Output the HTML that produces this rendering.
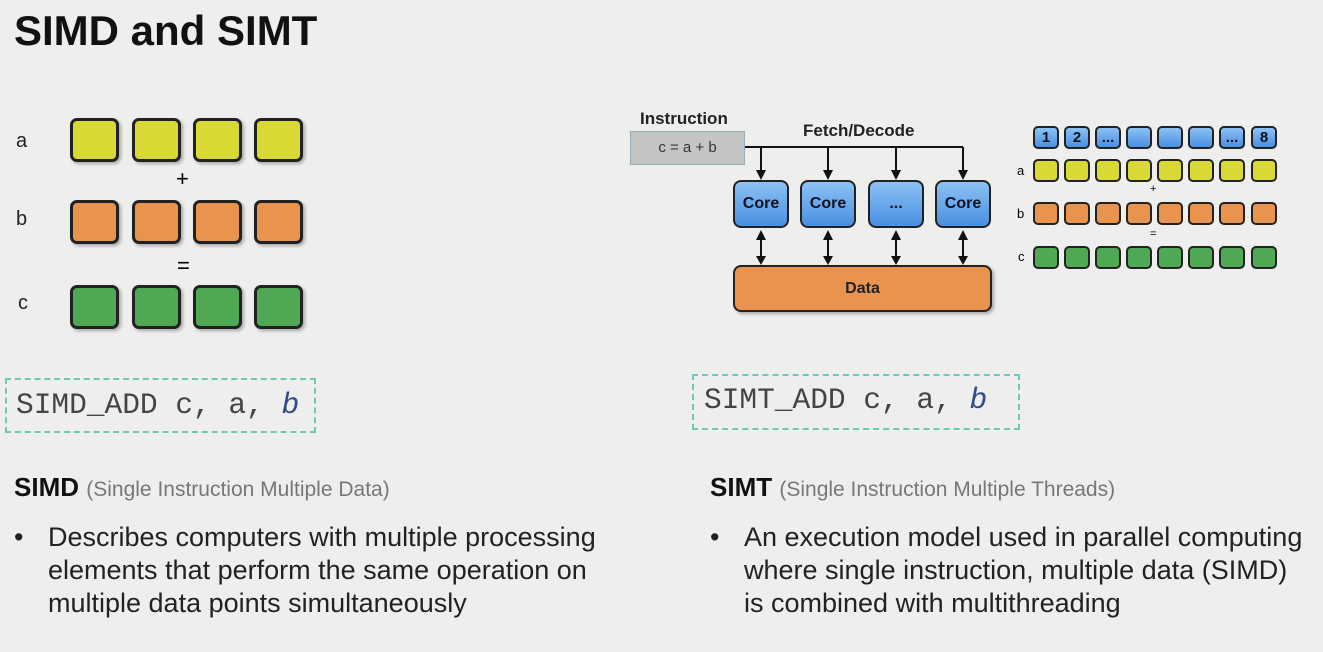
<!DOCTYPE html>
<html><head><style>
body{margin:0;width:1323px;height:652px;background:#eeeeec;position:relative;overflow:hidden;font-family:"Liberation Sans",sans-serif}
.a{position:absolute}
.bx{position:absolute;border:3px solid #222;border-radius:7px;box-sizing:border-box;box-shadow:2px 2px 3px rgba(0,0,0,.3)}
.y{background:#d9d935}.o{background:#e8944e}.g{background:#4fa954}.bl{background:linear-gradient(#8cc2f5,#4a8fe0)}
.sb{position:absolute;border:2px solid #222;border-radius:5px;box-sizing:border-box;width:26px;height:23px;font-weight:bold;font-size:15px;text-align:center;line-height:19px;color:#112}
.core{position:absolute;width:56px;height:48px;border:2px solid #222;border-radius:8px;box-sizing:border-box;background:linear-gradient(#8cc2f5,#4a8fe0);font-weight:bold;font-size:16px;color:#112;text-align:center;line-height:44px;top:180px}
.mono{font-family:"Liberation Mono",monospace;font-size:29.5px;color:#444}
.mono i{color:#334a8a}
.lbl{font-size:20px;color:#222}
.body{font-size:27px;color:#222;line-height:33px}
</style></head><body>
<div class="a" style="left:14px;top:7px;font-size:42px;font-weight:bold;color:#111">SIMD and SIMT</div>

<div class="a lbl" style="left:16px;top:130px">a</div>
<div class="a lbl" style="left:16px;top:208px">b</div>
<div class="a lbl" style="left:18px;top:292px">c</div>
<div class="a" style="left:176px;top:166px;font-size:22px">+</div>
<div class="a" style="left:177px;top:253px;font-size:22px">=</div>
<div class="bx y" style="left:70px;top:118px;width:49px;height:44px"></div>
<div class="bx y" style="left:132px;top:118px;width:49px;height:44px"></div>
<div class="bx y" style="left:193px;top:118px;width:49px;height:44px"></div>
<div class="bx y" style="left:254px;top:118px;width:49px;height:44px"></div>
<div class="bx o" style="left:70px;top:200px;width:49px;height:44px"></div>
<div class="bx o" style="left:132px;top:200px;width:49px;height:44px"></div>
<div class="bx o" style="left:193px;top:200px;width:49px;height:44px"></div>
<div class="bx o" style="left:254px;top:200px;width:49px;height:44px"></div>
<div class="bx g" style="left:70px;top:285px;width:49px;height:44px"></div>
<div class="bx g" style="left:132px;top:285px;width:49px;height:44px"></div>
<div class="bx g" style="left:193px;top:285px;width:49px;height:44px"></div>
<div class="bx g" style="left:254px;top:285px;width:49px;height:44px"></div>

<div class="a mono" style="left:5px;top:378px;width:311px;height:55px;border:2px dashed #6cc9b6;box-sizing:border-box;padding:8px 0 0 9px">SIMD_ADD c, a, <i>b</i></div>
<div class="a mono" style="left:692px;top:374px;width:328px;height:56px;border:2px dashed #6cc9b6;box-sizing:border-box;padding:7px 0 0 10px">SIMT_ADD c, a, <i>b</i></div>

<div class="a" style="left:14px;top:472px;font-size:26px;font-weight:bold;color:#111">SIMD <span style="font-weight:normal;font-size:21px;color:#777">(Single Instruction Multiple Data)</span></div>
<div class="a" style="left:710px;top:472px;font-size:26px;font-weight:bold;color:#111">SIMT <span style="font-weight:normal;font-size:21px;color:#777">(Single Instruction Multiple Threads)</span></div>
<div class="a body" style="left:14px;top:521px">•</div>
<div class="a body" style="left:48px;top:521px;width:640px">Describes computers with multiple processing<br>elements that perform the same operation on<br>multiple data points simultaneously</div>
<div class="a body" style="left:710px;top:521px">•</div>
<div class="a body" style="left:744px;top:521px;width:600px">An execution model used in parallel computing<br>where single instruction, multiple data (SIMD)<br>is combined with multithreading</div>

<!-- SIMT diagram -->
<div class="a" style="left:640px;top:109px;font-size:17px;font-weight:bold;color:#222">Instruction</div>
<div class="a" style="left:630px;top:131px;width:115px;height:34px;background:#c4c4c4;border:1px solid #9ab;box-sizing:border-box;text-align:center;line-height:32px;font-size:15px;color:#333">c = a + b</div>
<div class="a" style="left:803px;top:121px;font-size:17px;font-weight:bold;color:#222">Fetch/Decode</div>
<svg class="a" style="left:0;top:0" width="1323" height="652">
<g stroke="#111" stroke-width="2" fill="none">
<path d="M745,147 H963"/>
<path d="M761,147 V172 M828,147 V172 M896,147 V172 M963,147 V172"/>
<path d="M761,238 V258 M828,238 V258 M896,238 V258 M963,238 V258"/>
</g>
<g fill="#111">
<path d="M756,170 L766,170 L761,180Z M823,170 L833,170 L828,180Z M891,170 L901,170 L896,180Z M958,170 L968,170 L963,180Z"/>
<path d="M756,240 L766,240 L761,230Z M823,240 L833,240 L828,230Z M891,240 L901,240 L896,230Z M958,240 L968,240 L963,230Z"/>
<path d="M756,256 L766,256 L761,265Z M823,256 L833,256 L828,265Z M891,256 L901,256 L896,265Z M958,256 L968,256 L963,265Z"/>
</g></svg>
<div class="core" style="left:733px">Core</div>
<div class="core" style="left:800px">Core</div>
<div class="core" style="left:868px">...</div>
<div class="core" style="left:935px">Core</div>
<div class="a" style="left:733px;top:265px;width:259px;height:47px;background:#e8944e;border:2px solid #222;border-radius:8px;box-sizing:border-box;text-align:center;line-height:43px;font-weight:bold;font-size:16px;color:#222;box-shadow:2px 2px 3px rgba(0,0,0,.3)">Data</div>

<div class="a" style="left:1017px;top:163px;font-size:13px">a</div>
<div class="a" style="left:1017px;top:206px;font-size:13px">b</div>
<div class="a" style="left:1018px;top:249px;font-size:13px">c</div>
<div class="a" style="left:1150px;top:183px;font-size:11px">+</div>
<div class="a" style="left:1150px;top:228px;font-size:11px">=</div>
<div id="rows"></div>
<script>
var cols=[1033,1064,1095,1126,1157,1188,1219,1251],r=document.getElementById('rows'),h='';
var labs=['1','2','...','','','','...','8'];
cols.forEach(function(x,i){
h+='<div class="sb bl" style="left:'+x+'px;top:126px">'+labs[i]+'</div>';
h+='<div class="sb y" style="left:'+x+'px;top:159px"></div>';
h+='<div class="sb o" style="left:'+x+'px;top:202px"></div>';
h+='<div class="sb g" style="left:'+x+'px;top:246px"></div>';});
r.innerHTML=h;
</script>
</body></html>
